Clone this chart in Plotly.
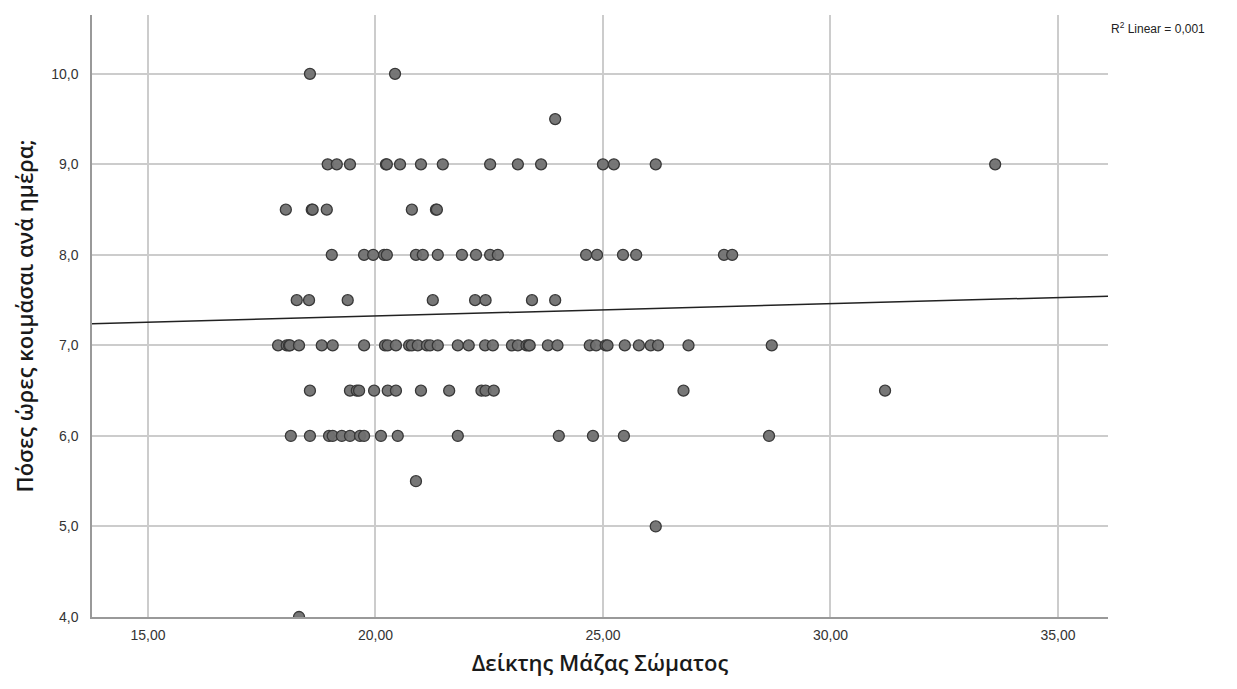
import numpy as np
import plotly.graph_objects as go

# Body Mass Index (x) and hours of sleep per day (y)
bmi = [
    # 10.0
    18.56, 20.43,
    # 9.5
    23.95,
    # 9.0
    18.95, 19.15, 19.44, 20.23, 20.25, 20.54, 21.0, 21.48, 22.52, 23.13, 23.64, 25.0, 25.24, 26.16, 33.62,
    # 8.5
    18.03, 18.6, 18.62, 18.93, 20.80, 21.33, 21.35,
    # 8.0
    19.04, 19.75, 19.95, 20.19, 20.25, 20.89, 21.04, 21.37, 21.90, 22.21, 22.52, 22.69,
    24.63, 24.87, 25.44, 25.73, 27.66, 27.84,
    # 7.5
    18.27, 18.54, 19.39, 21.26, 22.19, 22.42, 23.44, 23.95,
    # 7.0
    17.86, 18.05, 18.10, 18.12, 18.32, 18.82, 19.06, 19.75, 20.21, 20.27, 20.45, 20.74, 20.80,
    20.93, 21.13, 21.20, 21.37, 21.81, 22.05, 22.41, 22.58, 23.0, 23.13, 23.32, 23.37, 23.39,
    23.79, 24.0, 24.71, 24.85, 25.06, 25.10, 25.48, 25.79, 26.05, 26.21, 26.88, 28.71,
    # 6.5
    18.56, 19.44, 19.59, 19.64, 19.97, 20.27, 20.45, 21.0, 21.62, 22.33, 22.42, 22.60, 26.77, 31.20,
    # 6.0
    18.14, 18.56, 18.98, 19.06, 19.26, 19.44, 19.66, 19.75, 20.12, 20.49, 21.81, 24.03, 24.78, 25.46, 28.65,
    # 5.5
    20.89,
    # 5.0
    26.16,
    # 4.0
    18.32,
]
sleep = (
    [10.0] * 2 + [9.5] * 1 + [9.0] * 15 + [8.5] * 7 + [8.0] * 18 + [7.5] * 8
    + [7.0] * 38 + [6.5] * 14 + [6.0] * 15 + [5.5] * 1 + [5.0] * 1 + [4.0] * 1
)

x_ticks = [15, 20, 25, 30, 35]
y_ticks = [4, 5, 6, 7, 8, 9, 10]

x_range = [13.77, 36.1]
y_range = [4.0, 10.65]

# Linear fit from the data
slope, intercept = np.polyfit(bmi, sleep, 1)
fit_x = np.array(x_range)
fit_y = intercept + slope * fit_x

fig = go.Figure()
fig.add_trace(go.Scatter(
    x=fit_x, y=fit_y, mode="lines",
    line=dict(color="#222222", width=1.5),
    hoverinfo="skip", showlegend=False,
))
fig.add_trace(go.Scatter(
    x=bmi, y=sleep, mode="markers",
    marker=dict(size=11, color="rgba(112,112,112,0.95)",
                line=dict(color="#383838", width=1.3)),
    showlegend=False,
))

fig.add_annotation(
    text="R<sup>2</sup> Linear = 0,001",
    xref="paper", yref="paper", x=1.0, y=1.0, xanchor="left", yanchor="top",
    xshift=1, yshift=-3,
    showarrow=False, font=dict(family="Liberation Sans, Arial", size=12, color="#222222"),
)

title_font = dict(family="Open Sans, Noto Sans, sans-serif", size=22, color="#1a1a1a", weight=600)

fig.update_layout(
    width=1237, height=689,
    margin=dict(l=84, r=137, t=7, b=80),
    paper_bgcolor="white", plot_bgcolor="white",
    separators=",.",
    font=dict(family="Liberation Sans, Arial", size=14, color="#333333"),
)
fig.update_xaxes(
    range=x_range, tickvals=x_ticks, tickformat=".2f",
    showgrid=True, gridcolor="#cccccc", gridwidth=1.5,
    showline=True, linecolor="#999999", linewidth=1.5,
    zeroline=False, ticks="", ticklabelstandoff=4,
    title=dict(text="Δείκτης Μάζας Σώματος", font=title_font, standoff=14),
)
fig.update_yaxes(
    range=y_range, tickvals=y_ticks, tickformat=".1f",
    showgrid=True, gridcolor="#cccccc", gridwidth=1.5,
    showline=True, linecolor="#999999", linewidth=1.5,
    zeroline=False, ticks="", ticklabelstandoff=9,
    title=dict(text="Πόσες ώρες κοιμάσαι ανά ημέρα;", font=title_font, standoff=12),
)

fig.write_html("out.html")
